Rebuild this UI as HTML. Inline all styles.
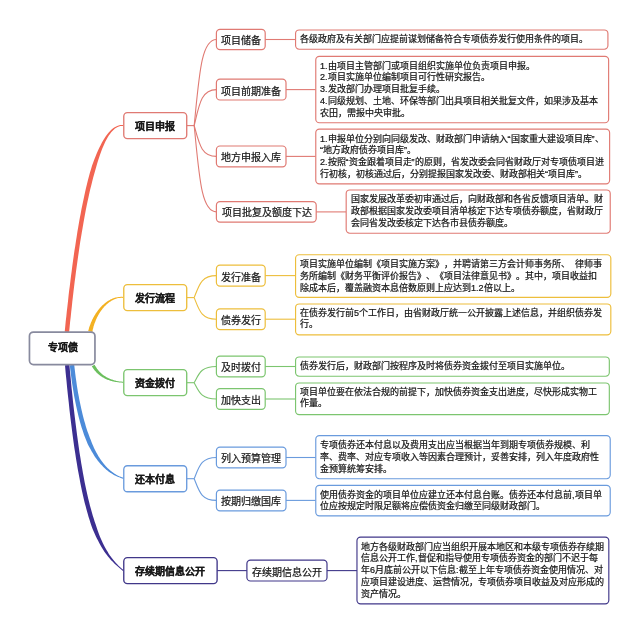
<!DOCTYPE html>
<html lang="zh-CN"><head><meta charset="utf-8"><title>专项债</title>
<style>
html,body{margin:0;padding:0;background:#fff;}
body{width:640px;height:633px;position:relative;overflow:hidden;font-family:"Liberation Sans",sans-serif;color:#151515;text-spacing-trim:space-all;font-kerning:none;}
svg{position:absolute;left:0;top:0;}
.n{will-change:transform;position:absolute;box-sizing:border-box;border:1px solid transparent;border-color:transparent !important;white-space:nowrap;overflow:hidden;display:flex;align-items:center;justify-content:center;}
.l0{font-weight:bold;font-size:10px;padding-bottom:3px;-webkit-text-stroke:0.25px #1c1c1c;}
.l1{font-weight:bold;font-size:10px;padding-bottom:1px;-webkit-text-stroke:0.25px #1c1c1c;}
.l2{font-size:10px;-webkit-text-stroke:0.22px #151515;}
.lf{font-size:9px;line-height:11.9px;display:block;padding:3.5px 0 0 4.1px;-webkit-text-stroke:0.22px #151515;}
</style></head><body>
<svg width="640" height="633" viewBox="0 0 640 633">
<path d="M69.8 365.2 L70.3 369.6 L70.8 373.8 L71.4 377.9 L71.9 381.9 L72.5 385.8 L73.1 389.6 L73.7 393.2 L74.3 396.8 L75.0 400.3 L75.7 403.7 L76.4 407.0 L77.1 410.2 L77.8 413.3 L78.5 416.3 L79.3 419.3 L80.0 422.1 L80.8 424.8 L81.6 427.5 L82.5 430.1 L83.3 432.6 L84.1 435.0 L85.0 437.3 L85.9 439.6 L86.8 441.8 L87.7 443.9 L88.7 445.9 L89.7 447.8 L90.7 449.6 L91.7 451.4 L92.7 453.1 L93.7 454.8 L94.7 456.4 L95.8 457.9 L96.8 459.3 L97.8 460.7 L98.9 462.0 L99.9 463.3 L101.0 464.5 L102.1 465.6 L103.1 466.7 L104.2 467.8 L105.3 468.8 L106.3 469.7 L107.4 470.6 L108.5 471.4 L109.6 472.2 L110.7 472.9 L111.7 473.6 L112.8 474.2 L113.9 474.9 L115.0 475.4 L116.1 475.9 L117.1 476.4 L118.2 476.9 L119.3 477.3 L120.3 477.8 L121.4 478.2 L122.4 478.5 L123.4 478.9 L123.8 477.9 L122.7 477.6 L121.7 477.2 L120.7 476.8 L119.6 476.4 L118.6 476.0 L117.6 475.4 L116.6 474.9 L115.6 474.3 L114.6 473.7 L113.6 473.0 L112.6 472.3 L111.6 471.5 L110.6 470.8 L109.7 469.9 L108.7 469.1 L107.7 468.2 L106.8 467.2 L105.8 466.2 L104.8 465.1 L103.9 464.0 L103.0 462.8 L102.0 461.6 L101.1 460.3 L100.2 459.0 L99.3 457.6 L98.4 456.2 L97.5 454.6 L96.6 453.1 L95.8 451.4 L94.9 449.7 L94.0 447.9 L93.2 446.1 L92.4 444.2 L91.6 442.2 L90.8 440.1 L89.9 438.0 L89.1 435.8 L88.3 433.5 L87.4 431.2 L86.6 428.7 L85.8 426.2 L85.1 423.6 L84.3 420.9 L83.5 418.1 L82.8 415.3 L82.1 412.3 L81.4 409.2 L80.7 406.1 L80.0 402.8 L79.3 399.5 L78.7 396.0 L78.0 392.5 L77.4 388.8 L76.8 385.1 L76.3 381.2 L75.7 377.3 L75.2 373.2 L74.7 369.0 L74.2 364.8Z" fill="#4C8BD9"/>
<path d="M65.0 365.2 L65.7 373.2 L66.5 381.0 L67.2 388.6 L68.0 396.0 L68.8 403.1 L69.5 410.1 L70.3 416.8 L71.1 423.3 L71.9 429.6 L72.7 435.8 L73.5 441.7 L74.3 447.5 L75.2 453.0 L76.0 458.4 L76.9 463.7 L77.7 468.7 L78.6 473.6 L79.5 478.3 L80.3 482.8 L81.2 487.2 L82.1 491.4 L83.0 495.5 L83.9 499.4 L84.8 503.2 L85.8 506.8 L86.7 510.3 L87.7 513.7 L88.6 516.9 L89.6 520.1 L90.5 523.0 L91.5 525.9 L92.5 528.7 L93.6 531.3 L94.7 533.8 L95.8 536.2 L96.9 538.4 L98.0 540.6 L99.1 542.7 L100.2 544.7 L101.3 546.7 L102.4 548.5 L103.5 550.2 L104.6 551.9 L105.7 553.5 L106.9 555.0 L108.0 556.5 L109.1 557.8 L110.3 559.2 L111.4 560.4 L112.6 561.6 L113.7 562.8 L114.9 563.9 L116.1 565.0 L117.2 566.0 L118.4 567.0 L119.5 568.0 L120.7 569.0 L121.8 570.0 L123.0 570.9 L123.6 570.1 L122.5 569.2 L121.3 568.2 L120.2 567.3 L119.1 566.3 L118.0 565.2 L117.0 564.1 L115.9 562.9 L114.9 561.8 L113.8 560.5 L112.8 559.3 L111.8 558.0 L110.7 556.6 L109.7 555.2 L108.7 553.7 L107.8 552.1 L106.8 550.5 L105.8 548.8 L104.8 547.1 L103.9 545.2 L102.9 543.3 L102.0 541.3 L101.1 539.2 L100.1 537.0 L99.2 534.7 L98.3 532.3 L97.4 529.8 L96.6 527.2 L95.7 524.5 L94.7 521.7 L93.8 518.7 L92.8 515.7 L91.9 512.5 L91.0 509.2 L90.0 505.7 L89.1 502.1 L88.2 498.4 L87.3 494.5 L86.4 490.5 L85.5 486.3 L84.6 481.9 L83.8 477.4 L82.9 472.8 L82.1 467.9 L81.2 462.9 L80.4 457.7 L79.5 452.4 L78.7 446.8 L77.9 441.1 L77.1 435.2 L76.3 429.1 L75.5 422.8 L74.7 416.3 L73.9 409.6 L73.1 402.6 L72.4 395.5 L71.6 388.2 L70.9 380.6 L70.1 372.8 L69.4 364.8Z" fill="#3C2F91"/>
<path d="M91.8 366.3 L92.1 366.8 L92.4 367.3 L92.8 367.8 L93.1 368.3 L93.4 368.8 L93.8 369.3 L94.2 369.8 L94.5 370.2 L94.9 370.7 L95.3 371.1 L95.7 371.6 L96.1 372.0 L96.5 372.4 L96.9 372.9 L97.4 373.3 L97.8 373.7 L98.2 374.1 L98.7 374.5 L99.1 374.8 L99.6 375.2 L100.1 375.6 L100.5 375.9 L101.0 376.2 L101.5 376.6 L102.0 376.9 L102.5 377.2 L103.0 377.5 L103.6 377.8 L104.1 378.1 L104.6 378.4 L105.2 378.7 L105.7 378.9 L106.3 379.2 L106.9 379.4 L107.4 379.7 L108.0 379.9 L108.6 380.1 L109.2 380.3 L109.8 380.5 L110.4 380.7 L111.1 380.9 L111.7 381.1 L112.3 381.2 L113.0 381.4 L113.6 381.5 L114.3 381.7 L114.9 381.8 L115.6 381.9 L116.3 382.0 L117.0 382.1 L117.7 382.2 L118.4 382.3 L119.1 382.4 L119.8 382.5 L120.6 382.6 L121.3 382.6 L122.1 382.7 L122.8 382.8 L123.6 382.8 L123.6 381.8 L122.9 381.8 L122.1 381.7 L121.4 381.6 L120.7 381.6 L120.0 381.5 L119.2 381.4 L118.6 381.3 L117.9 381.2 L117.2 381.1 L116.5 380.9 L115.9 380.7 L115.2 380.6 L114.6 380.4 L114.0 380.2 L113.3 380.0 L112.7 379.8 L112.1 379.6 L111.5 379.4 L111.0 379.2 L110.4 379.0 L109.8 378.7 L109.3 378.5 L108.7 378.2 L108.2 378.0 L107.7 377.7 L107.1 377.4 L106.6 377.2 L106.1 376.9 L105.6 376.6 L105.1 376.3 L104.7 376.0 L104.2 375.7 L103.7 375.4 L103.3 375.0 L102.9 374.7 L102.4 374.4 L102.0 374.0 L101.6 373.7 L101.2 373.3 L100.8 372.9 L100.4 372.6 L100.0 372.2 L99.6 371.8 L99.3 371.4 L98.9 371.0 L98.5 370.6 L98.2 370.2 L97.9 369.8 L97.5 369.3 L97.2 368.9 L96.9 368.5 L96.6 368.0 L96.3 367.6 L96.0 367.1 L95.7 366.6 L95.4 366.2 L95.1 365.7 L94.9 365.2 L94.6 364.7Z" fill="#6CBF5E"/>
<path d="M92.4 331.9 L92.5 331.0 L92.7 330.0 L92.9 329.1 L93.2 328.2 L93.4 327.3 L93.6 326.3 L93.9 325.4 L94.2 324.5 L94.5 323.6 L94.8 322.7 L95.2 321.9 L95.5 321.0 L95.9 320.1 L96.2 319.3 L96.6 318.4 L97.0 317.6 L97.4 316.8 L97.9 315.9 L98.3 315.1 L98.7 314.4 L99.2 313.6 L99.7 312.8 L100.2 312.1 L100.7 311.3 L101.2 310.6 L101.7 309.9 L102.2 309.2 L102.7 308.5 L103.3 307.9 L103.8 307.2 L104.4 306.6 L105.0 306.0 L105.6 305.4 L106.2 304.8 L106.8 304.3 L107.4 303.8 L108.0 303.2 L108.6 302.8 L109.2 302.3 L109.9 301.8 L110.5 301.4 L111.2 301.0 L111.8 300.6 L112.5 300.2 L113.1 299.9 L113.8 299.6 L114.5 299.3 L115.2 299.0 L115.9 298.7 L116.6 298.5 L117.3 298.3 L118.0 298.1 L118.7 298.0 L119.4 297.9 L120.1 297.9 L120.8 297.8 L121.5 297.8 L122.2 297.8 L123.0 297.9 L123.0 296.9 L122.3 296.8 L121.5 296.8 L120.8 296.8 L120.0 296.9 L119.3 296.9 L118.5 297.0 L117.8 297.2 L117.0 297.3 L116.3 297.5 L115.5 297.6 L114.8 297.8 L114.1 298.1 L113.3 298.3 L112.6 298.6 L111.8 298.9 L111.1 299.2 L110.4 299.6 L109.7 300.0 L109.0 300.4 L108.2 300.8 L107.5 301.3 L106.8 301.7 L106.2 302.2 L105.5 302.8 L104.8 303.3 L104.1 303.9 L103.5 304.4 L102.8 305.0 L102.2 305.6 L101.5 306.3 L100.9 306.9 L100.3 307.6 L99.7 308.3 L99.1 309.0 L98.5 309.7 L97.9 310.5 L97.4 311.2 L96.8 312.0 L96.3 312.8 L95.7 313.6 L95.2 314.4 L94.7 315.2 L94.2 316.1 L93.7 316.9 L93.2 317.8 L92.8 318.7 L92.3 319.6 L91.9 320.5 L91.5 321.4 L91.1 322.3 L90.7 323.3 L90.4 324.2 L90.0 325.2 L89.7 326.1 L89.3 327.1 L89.0 328.1 L88.8 329.1 L88.5 330.1 L88.2 331.1Z" fill="#F3B122"/>
<path d="M69.1 332.2 L69.6 327.2 L70.1 322.1 L70.7 317.0 L71.2 311.9 L71.8 306.8 L72.3 301.8 L72.9 296.7 L73.5 291.6 L74.1 286.5 L74.7 281.5 L75.4 276.4 L76.0 271.4 L76.7 266.5 L77.4 261.5 L78.1 256.6 L78.8 251.7 L79.5 246.8 L80.2 242.0 L81.0 237.3 L81.8 232.6 L82.6 227.9 L83.4 223.3 L84.2 218.8 L85.0 214.3 L85.8 209.9 L86.7 205.6 L87.6 201.3 L88.5 197.2 L89.4 193.1 L90.3 189.1 L91.3 185.2 L92.2 181.4 L93.2 177.6 L94.2 174.0 L95.2 170.5 L96.2 167.1 L97.1 163.8 L98.1 160.6 L99.1 157.5 L100.1 154.5 L101.1 151.7 L102.1 149.0 L103.2 146.4 L104.3 143.9 L105.4 141.6 L106.5 139.5 L107.6 137.5 L108.8 135.6 L110.0 133.9 L111.2 132.3 L112.4 130.9 L113.7 129.7 L115.0 128.6 L116.3 127.7 L117.6 127.0 L118.9 126.5 L120.3 126.1 L121.7 126.0 L123.2 126.0 L123.2 125.0 L121.7 125.0 L120.2 125.1 L118.7 125.5 L117.2 126.0 L115.7 126.7 L114.2 127.6 L112.8 128.6 L111.3 129.8 L109.9 131.2 L108.5 132.7 L107.1 134.4 L105.8 136.3 L104.5 138.3 L103.1 140.4 L101.8 142.7 L100.6 145.2 L99.3 147.7 L98.0 150.4 L96.8 153.3 L95.6 156.2 L94.4 159.3 L93.2 162.5 L92.0 165.8 L91.0 169.3 L89.9 172.8 L88.9 176.5 L87.9 180.3 L87.0 184.1 L86.0 188.1 L85.1 192.1 L84.2 196.2 L83.3 200.4 L82.4 204.7 L81.5 209.1 L80.7 213.5 L79.8 218.0 L79.0 222.6 L78.2 227.2 L77.4 231.8 L76.7 236.6 L75.9 241.4 L75.2 246.2 L74.4 251.0 L73.7 255.9 L73.0 260.9 L72.3 265.9 L71.7 270.9 L71.0 275.9 L70.4 280.9 L69.8 286.0 L69.1 291.1 L68.5 296.2 L68.0 301.3 L67.4 306.4 L66.8 311.5 L66.3 316.6 L65.7 321.6 L65.2 326.7 L64.7 331.8Z" fill="#F26552"/>
<g fill="none" stroke="#E07A73" stroke-width="1.1"><path d="M187.0 125.6 H194.2" /><path d="M194.2 125.6 C199.3 73.9 201.3 39.5 216.5 39.5"/><path d="M194.2 125.6 C199.3 104.0 201.3 89.6 216.5 89.6"/><path d="M194.2 125.6 C199.3 144.1 201.3 156.4 216.5 156.4"/><path d="M194.2 125.6 C199.3 177.4 201.3 211.9 216.5 211.9"/></g>
<g fill="none" stroke="#EDBE3C" stroke-width="1.1"><path d="M187.0 297.6 H194.2" /><path d="M194.2 297.6 C199.3 284.4 201.3 275.6 216.5 275.6"/><path d="M194.2 297.6 C199.3 310.6 201.3 319.2 216.5 319.2"/></g>
<g fill="none" stroke="#7CC56F" stroke-width="1.1"><path d="M187.0 382.7 H194.2" /><path d="M194.2 382.7 C199.3 373.0 201.3 366.5 216.5 366.5"/><path d="M194.2 382.7 C199.3 392.5 201.3 399.0 216.5 399.0"/></g>
<g fill="none" stroke="#6A9BDD" stroke-width="1.1"><path d="M187.0 478.7 H194.2" /><path d="M194.2 478.7 C199.3 466.0 201.3 457.5 216.5 457.5"/><path d="M194.2 478.7 C199.3 491.7 201.3 500.4 216.5 500.4"/></g>
<path d="M265.0 39.5 H295.5" fill="none" stroke="#E07A73" stroke-width="1.1"/>
<path d="M286.0 89.6 H315.7" fill="none" stroke="#E07A73" stroke-width="1.1"/>
<path d="M286.0 156.4 H315.7" fill="none" stroke="#E07A73" stroke-width="1.1"/>
<path d="M316.0 211.9 H346.0" fill="none" stroke="#E07A73" stroke-width="1.1"/>
<path d="M265.0 275.6 H295.5" fill="none" stroke="#EDBE3C" stroke-width="1.1"/>
<path d="M265.0 319.2 H295.5" fill="none" stroke="#EDBE3C" stroke-width="1.1"/>
<path d="M265.0 366.5 H295.5" fill="none" stroke="#7CC56F" stroke-width="1.1"/>
<path d="M265.0 399.0 H295.5" fill="none" stroke="#7CC56F" stroke-width="1.1"/>
<path d="M286.0 457.5 H315.7" fill="none" stroke="#6A9BDD" stroke-width="1.1"/>
<path d="M286.0 500.4 H315.7" fill="none" stroke="#6A9BDD" stroke-width="1.1"/>
<path d="M217.0 570.6 H247.0" fill="none" stroke="#403789" stroke-width="1.1"/>
<path d="M327.0 570.6 H357.0" fill="none" stroke="#403789" stroke-width="1.1"/>
<rect x="29.45" y="332.05" width="65.50" height="32.50" rx="4.0" fill="#fff" stroke="#888A9E" stroke-width="1.70"/>
<rect x="123.77" y="112.67" width="62.95" height="25.95" rx="3.6" fill="#fff" stroke="#E07A73" stroke-width="1.35"/>
<rect x="123.77" y="284.68" width="62.95" height="25.95" rx="3.6" fill="#fff" stroke="#EDBE3C" stroke-width="1.35"/>
<rect x="123.77" y="369.68" width="62.95" height="25.95" rx="3.6" fill="#fff" stroke="#7CC56F" stroke-width="1.35"/>
<rect x="123.77" y="465.78" width="62.95" height="25.95" rx="3.6" fill="#fff" stroke="#6A9BDD" stroke-width="1.35"/>
<rect x="123.77" y="557.67" width="93.35" height="25.95" rx="3.6" fill="#fff" stroke="#403789" stroke-width="1.35"/>
<rect x="216.40" y="29.40" width="48.80" height="20.20" rx="3.6" fill="#fff" stroke="#E07A73" stroke-width="1.20"/>
<rect x="216.40" y="79.20" width="69.60" height="20.80" rx="3.6" fill="#fff" stroke="#E07A73" stroke-width="1.20"/>
<rect x="216.40" y="146.00" width="69.60" height="20.80" rx="3.6" fill="#fff" stroke="#E07A73" stroke-width="1.20"/>
<rect x="216.40" y="201.60" width="99.80" height="20.60" rx="3.6" fill="#fff" stroke="#E07A73" stroke-width="1.20"/>
<rect x="216.40" y="265.20" width="48.80" height="21.00" rx="3.6" fill="#fff" stroke="#EDBE3C" stroke-width="1.20"/>
<rect x="216.40" y="308.80" width="48.80" height="20.90" rx="3.6" fill="#fff" stroke="#EDBE3C" stroke-width="1.20"/>
<rect x="216.40" y="356.20" width="48.80" height="20.70" rx="3.6" fill="#fff" stroke="#7CC56F" stroke-width="1.20"/>
<rect x="216.40" y="388.60" width="48.80" height="20.80" rx="3.6" fill="#fff" stroke="#7CC56F" stroke-width="1.20"/>
<rect x="216.40" y="447.20" width="69.60" height="20.70" rx="3.6" fill="#fff" stroke="#6A9BDD" stroke-width="1.20"/>
<rect x="216.40" y="490.10" width="69.60" height="20.70" rx="3.6" fill="#fff" stroke="#6A9BDD" stroke-width="1.20"/>
<rect x="246.90" y="560.20" width="80.10" height="20.80" rx="3.6" fill="#fff" stroke="#403789" stroke-width="1.20"/>
<rect x="295.57" y="29.97" width="312.35" height="19.25" rx="3.6" fill="#fff" stroke="#E07A73" stroke-width="1.15"/>
<rect x="315.77" y="56.38" width="292.85" height="66.35" rx="3.6" fill="#fff" stroke="#E07A73" stroke-width="1.15"/>
<rect x="315.77" y="129.17" width="293.85" height="54.65" rx="3.6" fill="#fff" stroke="#E07A73" stroke-width="1.15"/>
<rect x="346.18" y="189.97" width="264.05" height="43.25" rx="3.6" fill="#fff" stroke="#E07A73" stroke-width="1.15"/>
<rect x="295.57" y="254.77" width="315.25" height="42.65" rx="3.6" fill="#fff" stroke="#EDBE3C" stroke-width="1.15"/>
<rect x="295.57" y="303.97" width="315.25" height="30.85" rx="3.6" fill="#fff" stroke="#EDBE3C" stroke-width="1.15"/>
<rect x="295.57" y="356.97" width="313.75" height="19.25" rx="3.6" fill="#fff" stroke="#7CC56F" stroke-width="1.15"/>
<rect x="295.57" y="382.97" width="313.75" height="31.65" rx="3.6" fill="#fff" stroke="#7CC56F" stroke-width="1.15"/>
<rect x="315.77" y="435.57" width="294.45" height="43.15" rx="3.6" fill="#fff" stroke="#6A9BDD" stroke-width="1.15"/>
<rect x="315.77" y="485.38" width="294.45" height="30.45" rx="3.6" fill="#fff" stroke="#6A9BDD" stroke-width="1.15"/>
<rect x="356.97" y="537.18" width="251.85" height="66.65" rx="3.6" fill="#fff" stroke="#403789" stroke-width="1.15"/>
</svg>
<div class="n l0" style="left:28.6px;top:331.2px;width:67.2px;height:34.2px;border-color:#888A9E">专项债</div>
<div class="n l1" style="left:123.1px;top:112.0px;width:64.3px;height:27.3px;border-color:#E07A73">项目申报</div>
<div class="n l1" style="left:123.1px;top:284.0px;width:64.3px;height:27.3px;border-color:#EDBE3C">发行流程</div>
<div class="n l1" style="left:123.1px;top:369.0px;width:64.3px;height:27.3px;border-color:#7CC56F">资金拨付</div>
<div class="n l1" style="left:123.1px;top:465.1px;width:64.3px;height:27.3px;border-color:#6A9BDD">还本付息</div>
<div class="n l1" style="left:123.1px;top:557.0px;width:94.7px;height:27.3px;border-color:#403789">存续期信息公开</div>
<div class="n l2" style="left:215.8px;top:28.8px;width:50.0px;height:21.4px;border-color:#E07A73">项目储备</div>
<div class="n l2" style="left:215.8px;top:78.6px;width:70.8px;height:22.0px;border-color:#E07A73">项目前期准备</div>
<div class="n l2" style="left:215.8px;top:145.4px;width:70.8px;height:22.0px;border-color:#E07A73">地方申报入库</div>
<div class="n l2" style="left:215.8px;top:201.0px;width:101.0px;height:21.8px;border-color:#E07A73">项目批复及额度下达</div>
<div class="n l2" style="left:215.8px;top:264.6px;width:50.0px;height:22.2px;border-color:#EDBE3C">发行准备</div>
<div class="n l2" style="left:215.8px;top:308.2px;width:50.0px;height:22.1px;border-color:#EDBE3C">债券发行</div>
<div class="n l2" style="left:215.8px;top:355.6px;width:50.0px;height:21.9px;border-color:#7CC56F">及时拨付</div>
<div class="n l2" style="left:215.8px;top:388.0px;width:50.0px;height:22.0px;border-color:#7CC56F">加快支出</div>
<div class="n l2" style="left:215.8px;top:446.6px;width:70.8px;height:21.9px;border-color:#6A9BDD">列入预算管理</div>
<div class="n l2" style="left:215.8px;top:489.5px;width:70.8px;height:21.9px;border-color:#6A9BDD">按期归缴国库</div>
<div class="n l2" style="left:246.3px;top:559.6px;width:81.3px;height:22.0px;border-color:#403789">存续期信息公开</div>
<div class="n lf" style="left:295.0px;top:29.4px;width:313.5px;height:20.4px;border-color:#E07A73">各级政府及有关部门应提前谋划储备符合专项债券发行使用条件的项目。</div>
<div class="n lf" style="left:315.2px;top:55.8px;width:294.0px;height:67.5px;border-color:#E07A73">1.由项目主管部门或项目组织实施单位负责项目申报。<br>2.项目实施单位编制项目可行性研究报告。<br>3.发改部门办理项目批复手续。<br>4.同级规划、土地、环保等部门出具项目相关批复文件，如果涉及基本<br>农田，需报中央审批。</div>
<div class="n lf" style="left:315.2px;top:128.6px;width:295.0px;height:55.8px;border-color:#E07A73">1.申报单位分别向同级发改、财政部门申请纳入“国家重大建设项目库”、<br>“地方政府债券项目库”。<br>2.按照“资金跟着项目走”的原则，省发改委会同省财政厅对专项债项目进<br>行初核，初核通过后，分别提报国家发改委、财政部相关“项目库”。</div>
<div class="n lf" style="left:345.6px;top:189.4px;width:265.2px;height:44.4px;border-color:#E07A73"><div style="margin-top:0.7px">国家发展改革委初审通过后，向财政部和各省反馈项目清单。财<br>政部根据国家发改委项目清单核定下达专项债券额度，省财政厅<br>会同省发改委核定下达各市县债券额度。</div></div>
<div class="n lf" style="left:295.0px;top:254.2px;width:316.4px;height:43.8px;border-color:#EDBE3C"><div style="margin-top:0.7px">项目实施单位编制《项目实施方案》，并聘请第三方会计师事务所、&ensp;律师事<br>务所编制《财务平衡评价报告》、《项目法律意见书》。其中，项目收益扣<br>除成本后，覆盖融资本息倍数原则上应达到1.2倍以上。</div></div>
<div class="n lf" style="left:295.0px;top:303.4px;width:316.4px;height:32.0px;border-color:#EDBE3C">在债券发行前5个工作日，由省财政厅统一公开披露上述信息，并组织债券发<br>行。</div>
<div class="n lf" style="left:295.0px;top:356.4px;width:314.9px;height:20.4px;border-color:#7CC56F">债券发行后，财政部门按程序及时将债券资金拨付至项目实施单位。</div>
<div class="n lf" style="left:295.0px;top:382.4px;width:314.9px;height:32.8px;border-color:#7CC56F">项目单位要在依法合规的前提下，加快债券资金支出进度，尽快形成实物工<br>作量。</div>
<div class="n lf" style="left:315.2px;top:435.0px;width:295.6px;height:44.3px;border-color:#6A9BDD"><div style="margin-top:0.7px">专项债券还本付息以及费用支出应当根据当年到期专项债券规模、利<br>率、费率、对应专项收入等因素合理预计，妥善安排，列入年度政府性<br>金预算统筹安排。</div></div>
<div class="n lf" style="left:315.2px;top:484.8px;width:295.6px;height:31.6px;border-color:#6A9BDD">使用债券资金的项目单位应建立还本付息台账。债券还本付息前,项目单<br>位应按规定时限足额将应偿债资金归缴至同级财政部门。</div>
<div class="n lf" style="left:356.4px;top:536.6px;width:253.0px;height:67.8px;border-color:#403789">地方各级财政部门应当组织开展本地区和本级专项债券存续期<br>信息公开工作,督促和指导使用专项债券资金的部门不迟于每<br>年6月底前公开以下信息:截至上年专项债券资金使用情况、对<br>应项目建设进度、运营情况，专项债券项目收益及对应形成的<br>资产情况。</div>
</body></html>
